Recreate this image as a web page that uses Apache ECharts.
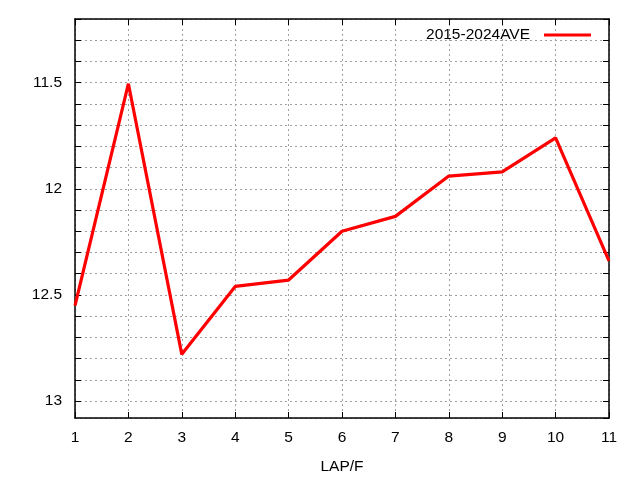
<!DOCTYPE html>
<html>
<head>
<meta charset="utf-8">
<script src="https://cdn.jsdelivr.net/npm/echarts@6/dist/echarts.min.js"></script>
<style>html,body{margin:0;padding:0;background:#fff}#c{width:640px;height:480px}</style>
</head>
<body>
<div id="c"></div>
<script>
var laps = [1, 2, 3, 4, 5, 6, 7, 8, 9, 10, 11];
var aveValues = [12.55, 11.505, 12.78, 12.46, 12.43, 12.2, 12.13, 11.94, 11.92, 11.76, 12.34];
var seriesName = '2015-2024AVE';
var yLabels = ['11.5', '12', '12.5', '13'];
var xTitle = 'LAP/F';

var font = 'Liberation Sans, Arial, sans-serif';
var fs = 15.5;
var chart = echarts.init(document.getElementById('c'), null, {renderer: 'canvas'});
var grid = {left: 75, right: 31, top: 19, bottom: 61, show: false};
var gridLine = {show: true, lineStyle: {color: '#a0a0a0', width: 1, type: [2, 3]}};
var frame = {show: true, lineStyle: {color: '#000', width: 1.5}};
var tick = {show: true, inside: true, length: 6, lineStyle: {color: '#000', width: 1}};

chart.setOption({
  animation: false,
  backgroundColor: '#fff',
  grid: grid,
  legend: {
    data: [{name: seriesName, icon: 'rect'}],
    right: 44, top: 22, align: 'right',
    itemWidth: 47, itemHeight: 3,
    textStyle: {fontFamily: font, fontSize: fs, color: '#000', padding: [0, 9, 0, 0]}
  },
  xAxis: [{
    type: 'value', min: 1, max: 11, interval: 1,
    name: xTitle, nameLocation: 'middle', nameGap: 41,
    nameTextStyle: {fontFamily: font, fontSize: fs, color: '#000'},
    axisLine: frame, axisTick: tick, splitLine: gridLine,
    axisLabel: {fontFamily: font, fontSize: fs, color: '#000', margin: 12}
  }, {
    type: 'value', min: 1, max: 11, interval: 1, position: 'top',
    axisLine: frame, axisTick: tick, splitLine: {show: false},
    axisLabel: {show: false}
  }],
  yAxis: [{
    type: 'value', inverse: true, min: 11.2, max: 13.08, interval: 0.1,
    axisLine: frame, axisTick: tick, splitLine: gridLine,
    axisLabel: {
      fontFamily: font, fontSize: fs, color: '#000', margin: 13,
      showMaxLabel: false,
      formatter: function (v) {
        var s = String(Math.round(v * 10) / 10);
        return yLabels.indexOf(s) >= 0 ? s : '';
      }
    }
  }, {
    type: 'value', inverse: true, min: 11.2, max: 13.08, interval: 0.1, position: 'right',
    axisLine: frame, axisTick: tick, splitLine: {show: false},
    axisLabel: {show: false}
  }],
  series: [{
    name: seriesName, type: 'line',
    data: laps.map(function (x, i) { return [x, aveValues[i]]; }),
    showSymbol: false, symbol: 'none',
    lineStyle: {color: '#ff0000', width: 3.2},
    itemStyle: {color: '#ff0000'}
  }]
});
</script>
</body>
</html>
